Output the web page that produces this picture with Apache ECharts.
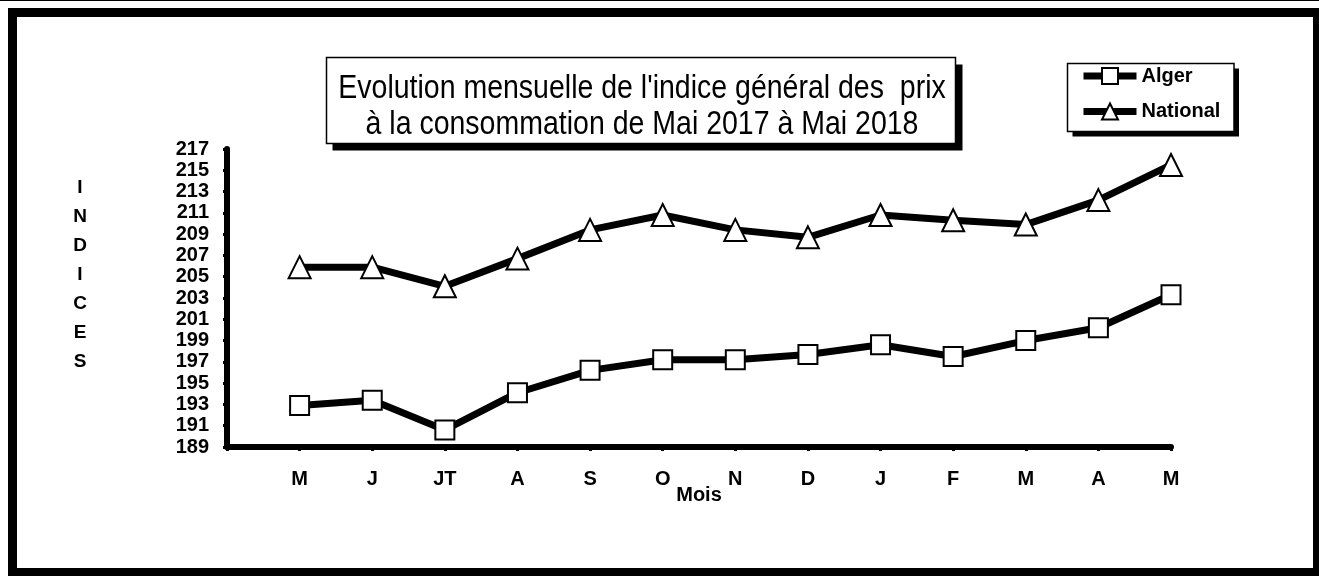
<!DOCTYPE html>
<html><head><meta charset="utf-8">
<script src="https://cdn.jsdelivr.net/npm/echarts@6/dist/echarts.min.js"></script>
<style>html,body{margin:0;padding:0;background:#fff}#c{width:1319px;height:576px}</style>
</head><body><div id="c"></div>
<script>
const months = ['M','J','JT','A','S','O','N','D','J','F','M','A','M'];
const alger = [192.9,193.4,190.6,194.1,196.2,197.2,197.2,197.7,198.6,197.5,199.0,200.2,203.3];
const national = [205.9,205.9,204.1,206.7,209.4,210.8,209.4,208.7,210.8,210.3,209.9,212.2,215.5];
const yMin = 189, yMax = 217, yStep = 2;
const seriesNames = ['Alger','National'];
const titleLines = ["Evolution mensuelle de l'indice général des  prix", "à la consommation de Mai 2017 à Mai 2018"];
const yName = 'INDICES';
const xName = 'Mois';

const FONT = "'Liberation Sans', Arial, sans-serif";
const chart = echarts.init(document.getElementById('c'), null, {renderer:'canvas'});
const toPairs = arr => arr.map((v,i)=>[i+1, v]);

chart.setOption({
  animation:false,
  backgroundColor:'#fff',
  grid:{left:227, right:148, top:149, bottom:129, containLabel:false},
  xAxis:{
    type:'value', min:0, max:months.length, interval:1,
    name:xName, nameLocation:'middle', nameGap:38, nameMoveOverlap:false,
    nameTextStyle:{fontFamily:FONT, fontWeight:'bold', fontSize:20, color:'#000'},
    axisLine:{show:true, lineStyle:{color:'#000', width:6}},
    axisTick:{show:true, inside:false, length:4, lineStyle:{color:'#000', width:3}},
    axisLabel:{margin:22, fontFamily:FONT, fontWeight:'bold', fontSize:20, color:'#000',
      formatter: v => months[v-1] !== undefined ? months[v-1] : ''},
    splitLine:{show:false}
  },
  yAxis:{
    type:'value', min:yMin, max:yMax, interval:yStep,
    axisLine:{show:true, lineStyle:{color:'#000', width:6}},
    axisTick:{show:true, inside:false, length:4, lineStyle:{color:'#000', width:3}},
    axisLabel:{margin:18, fontFamily:FONT, fontWeight:'bold', fontSize:20, color:'#000'},
    splitLine:{show:false}
  },
  legend:{
    orient:'vertical', left:1080, top:66, padding:0,
    itemWidth:53, itemHeight:20, itemGap:15.5,
    data:seriesNames,
    textStyle:{fontFamily:FONT, fontWeight:'bold', fontSize:20, color:'#000'},
    lineStyle:{width:7, color:'#000'},
    z:10
  },
  graphic:[
    {type:'rect', z:0, silent:true, shape:{x:0,y:0,width:1319,height:1}, style:{fill:'#000'}},
    {type:'rect', z:0, silent:true, shape:{x:12.5,y:12.5,width:1305,height:560}, style:{fill:null, stroke:'#000', lineWidth:9}},
    {type:'rect', z:1, silent:true, shape:{x:332.5,y:64.5,width:630,height:86}, style:{fill:'#000'}},
    {type:'rect', z:2, silent:true, shape:{x:326.5,y:57.5,width:629,height:86}, style:{fill:'#fff', stroke:'#000', lineWidth:1.5}},
    {type:'text', z:3, silent:true, x:642, y:107, scaleY:1.15,
     style:{x:0, y:0, text:titleLines.join('\n'), font:"28.5px "+FONT, fill:'#000', align:'center', verticalAlign:'middle', lineHeight:31.5}},
    {type:'rect', z:1, silent:true, shape:{x:1072.5,y:68.5,width:166.5,height:68}, style:{fill:'#000'}},
    {type:'rect', z:2, silent:true, shape:{x:1067.5,y:63.5,width:166.5,height:68}, style:{fill:'#fff', stroke:'#000', lineWidth:1.5}},
    {type:'text', z:3, silent:true, style:{x:80, y:275, text:yName.split('').join('\n'), font:"bold 19px "+FONT, fill:'#000', align:'center', verticalAlign:'middle', lineHeight:29}}
  ],
  series:[
    {name:seriesNames[0], type:'line', data:toPairs(alger), symbol:'rect', symbolSize:19,
     lineStyle:{color:'#000', width:7}, itemStyle:{color:'#fff', borderColor:'#000', borderWidth:2}, z:3},
    {name:seriesNames[1], type:'line', data:toPairs(national), symbol:'triangle', symbolSize:22,
     lineStyle:{color:'#000', width:7}, itemStyle:{color:'#fff', borderColor:'#000', borderWidth:2}, z:3}
  ]
});
</script></body></html>
